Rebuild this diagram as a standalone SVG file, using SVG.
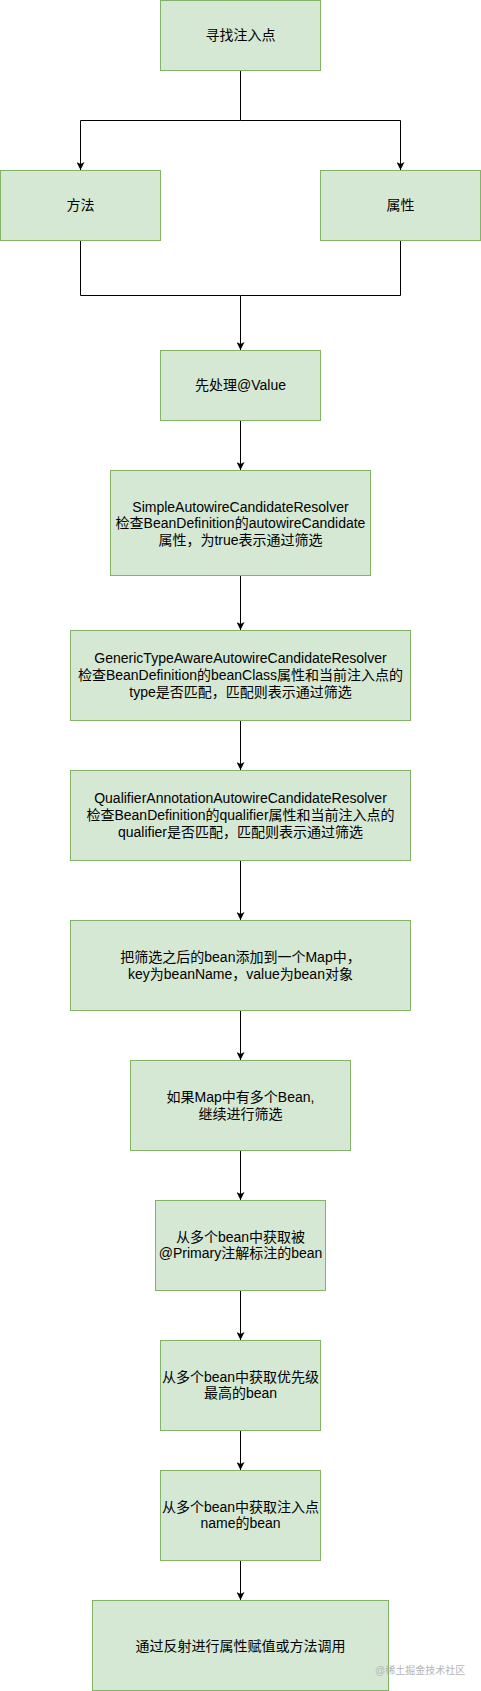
<svg xmlns="http://www.w3.org/2000/svg" width="481" height="1691" viewBox="0 0 481 1691">
  <style>
    .box { fill: #d5e8d4; stroke: #82b366; stroke-width: 1; }
    .lbl { font-family: "Liberation Sans", "Noto Sans CJK SC", sans-serif; font-size: 14px; fill: #000000; text-anchor: middle; }
    .edge { fill: none; stroke: #000000; stroke-width: 1; }
    .wm { font-family: "Liberation Sans", "Noto Sans CJK SC", sans-serif; font-size: 10px; fill: #b5b5b5; }
  </style>
  <defs>
    <marker id="arrow" markerUnits="userSpaceOnUse" viewBox="0 0 8 8" refX="8" refY="4" markerWidth="8" markerHeight="8" orient="auto">
      <path d="M0,0 L8,4 L0,8 L2,4 Z" fill="#000000"/>
    </marker>
  </defs>
  <rect width="481" height="1691" fill="#ffffff"/>

  <g id="connectors">
    <path class="edge" d="M240.5,70.5 V120.5 H80.5 V170" marker-end="url(#arrow)"/>
    <path class="edge" d="M240.5,120.5 H400.5 V170" marker-end="url(#arrow)"/>
    <path class="edge" d="M80.5,240.5 V295.5 H240.5 V350" marker-end="url(#arrow)"/>
    <path class="edge" d="M400.5,240.5 V295.5 H240.5"/>
    <path class="edge" d="M240.5,420.5 V470" marker-end="url(#arrow)"/>
    <path class="edge" d="M240.5,575.5 V630" marker-end="url(#arrow)"/>
    <path class="edge" d="M240.5,720.5 V770" marker-end="url(#arrow)"/>
    <path class="edge" d="M240.5,860.5 V920" marker-end="url(#arrow)"/>
    <path class="edge" d="M240.5,1010.5 V1060" marker-end="url(#arrow)"/>
    <path class="edge" d="M240.5,1150.5 V1200" marker-end="url(#arrow)"/>
    <path class="edge" d="M240.5,1290.5 V1340" marker-end="url(#arrow)"/>
    <path class="edge" d="M240.5,1430.5 V1470" marker-end="url(#arrow)"/>
    <path class="edge" d="M240.5,1560.5 V1600" marker-end="url(#arrow)"/>
  </g>

  <g id="node-find">
    <rect class="box" x="160.5" y="0.5" width="160" height="70"/>
    <text class="lbl" x="240.5" y="40">寻找注入点</text>
  </g>
  <g id="node-method">
    <rect class="box" x="0.5" y="170.5" width="160" height="70"/>
    <text class="lbl" x="80.5" y="210">方法</text>
  </g>
  <g id="node-field">
    <rect class="box" x="320.5" y="170.5" width="160" height="70"/>
    <text class="lbl" x="400.5" y="210">属性</text>
  </g>
  <g id="node-value">
    <rect class="box" x="160.5" y="350.5" width="160" height="70"/>
    <text class="lbl" x="240.5" y="390">先处理@Value</text>
  </g>
  <g id="node-simple">
    <rect class="box" x="110.5" y="470.5" width="260" height="105"/>
    <text class="lbl" x="240.5" y="511.7">SimpleAutowireCandidateResolver</text>
    <text class="lbl" x="240.5" y="528.3">检查BeanDefinition的autowireCandidate</text>
    <text class="lbl" x="240.5" y="545">属性，为true表示通过筛选</text>
  </g>
  <g id="node-generic">
    <rect class="box" x="70.5" y="630.5" width="340" height="90"/>
    <text class="lbl" x="240.5" y="663.3">GenericTypeAwareAutowireCandidateResolver</text>
    <text class="lbl" x="240.5" y="680">检查BeanDefinition的beanClass属性和当前注入点的</text>
    <text class="lbl" x="240.5" y="696.7">type是否匹配，匹配则表示通过筛选</text>
  </g>
  <g id="node-qualifier">
    <rect class="box" x="70.5" y="770.5" width="340" height="90"/>
    <text class="lbl" x="240.5" y="803.3">QualifierAnnotationAutowireCandidateResolver</text>
    <text class="lbl" x="240.5" y="820">检查BeanDefinition的qualifier属性和当前注入点的</text>
    <text class="lbl" x="240.5" y="836.7">qualifier是否匹配，匹配则表示通过筛选</text>
  </g>
  <g id="node-map">
    <rect class="box" x="70.5" y="920.5" width="340" height="90"/>
    <text class="lbl" x="240.5" y="962.3">把筛选之后的bean添加到一个Map中，</text>
    <text class="lbl" x="240.5" y="979">key为beanName，value为bean对象</text>
  </g>
  <g id="node-multi">
    <rect class="box" x="130.5" y="1060.5" width="220" height="90"/>
    <text class="lbl" x="240.5" y="1102.3">如果Map中有多个Bean,</text>
    <text class="lbl" x="240.5" y="1119">继续进行筛选</text>
  </g>
  <g id="node-primary">
    <rect class="box" x="155.5" y="1200.5" width="170" height="90"/>
    <text class="lbl" x="240.5" y="1241.7">从多个bean中获取被</text>
    <text class="lbl" x="240.5" y="1258.3">@Primary注解标注的bean</text>
  </g>
  <g id="node-priority">
    <rect class="box" x="160.5" y="1340.5" width="160" height="90"/>
    <text class="lbl" x="240.5" y="1381.7">从多个bean中获取优先级</text>
    <text class="lbl" x="240.5" y="1398.3">最高的bean</text>
  </g>
  <g id="node-name">
    <rect class="box" x="160.5" y="1470.5" width="160" height="90"/>
    <text class="lbl" x="240.5" y="1511.7">从多个bean中获取注入点</text>
    <text class="lbl" x="240.5" y="1528.3">name的bean</text>
  </g>
  <g id="node-inject">
    <rect class="box" x="92.5" y="1600.5" width="296" height="90"/>
    <text class="lbl" x="240.5" y="1650.7">通过反射进行属性赋值或方法调用</text>
  </g>
  <text class="wm" x="375" y="1674">@稀土掘金技术社区</text>
</svg>
